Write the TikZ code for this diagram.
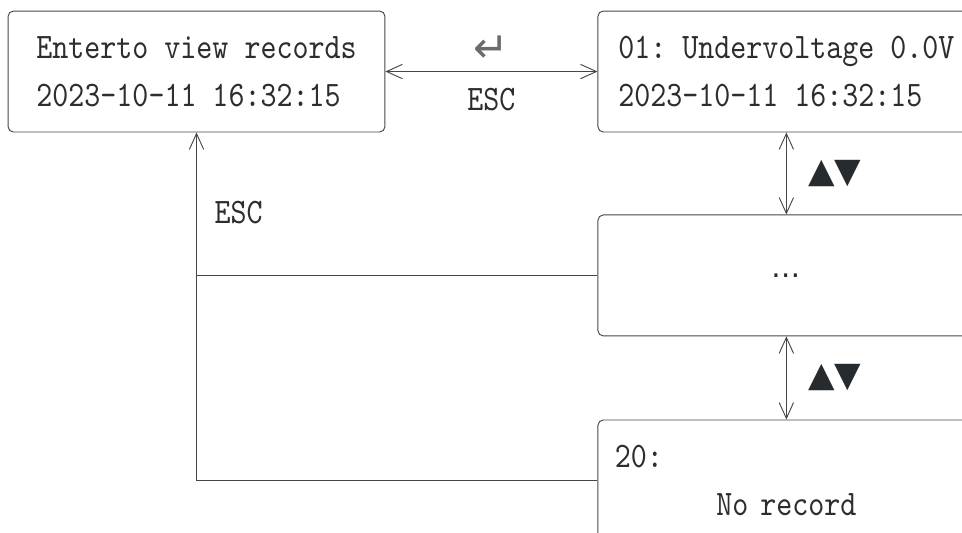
\documentclass[tikz,border=0pt]{standalone}
\usepackage{fontspec}
\usepackage{xcolor}
\usepackage{tikz}
\usetikzlibrary{arrows.meta, positioning}
\setmonofont{lmmono10-regular.otf}[FakeStretch=0.85]
\newfontfamily\dejavu{DejaVu Sans}
\definecolor{rahmen}{RGB}{70,70,70}
\definecolor{schrift}{RGB}{45,45,45}
\definecolor{tasten}{RGB}{38,43,48}

\begin{document}
\begin{tikzpicture}[node distance=2.17cm, >={Straight Barb[length=4.2mm, width=3.8mm]},
        line width=0.7pt,
        rec/.style={draw=rahmen, rounded corners=4pt, minimum width=9.97cm,
                    minimum height=3.2cm, text=schrift, align=left,
                    font=\fontsize{27}{36}\selectfont\ttfamily},
        lbl/.style={text=schrift, font=\fontsize{27}{30}\selectfont\ttfamily},
        keys/.style={text=tasten, font=\fontsize{26}{30}\selectfont\dejavu}]

      \clip (0,0) rectangle (25.45,-14.10);
      \node[rec] (enter) at (5.199,-1.892) {Enterto view records\\2023-10-11 16:32:15};
      \node[rec, right=5.61cm of enter] (first) {01: Undervoltage 0.0V\\2023-10-11 16:32:15};
      \node[rec, below=of first, font=\fontsize{22}{26}\selectfont\dejavu,
            text=tasten] (dots) {…};
      \node[rec, below=2.2cm of dots, align=center, text width=9.07cm,
            inner xsep=0.45cm] (last) {\makebox[\linewidth][l]{20:}\\No record};

      \draw[<->, draw=rahmen] (enter) -- node[above=0.12cm, keys, text=rahmen!80,
                                              font=\fontsize{32}{36}\selectfont\dejavu]{↵}
                                         node[below=0.3cm, lbl]{ESC} (first);
      \draw[<->, draw=rahmen] (first) -- node[right=0.45cm, keys]{▲▼} (dots);
      \draw[<->, draw=rahmen] (dots)  -- node[right=0.45cm, keys]{▲▼} (last);
      \draw[->, draw=rahmen] (last.west) -| node[pos=0.885, right=0.35cm, lbl]{ESC}
                                           (enter.south);
      \draw[draw=rahmen] (dots.west) -- (dots.west -| enter.south);
\end{tikzpicture}
\end{document}
